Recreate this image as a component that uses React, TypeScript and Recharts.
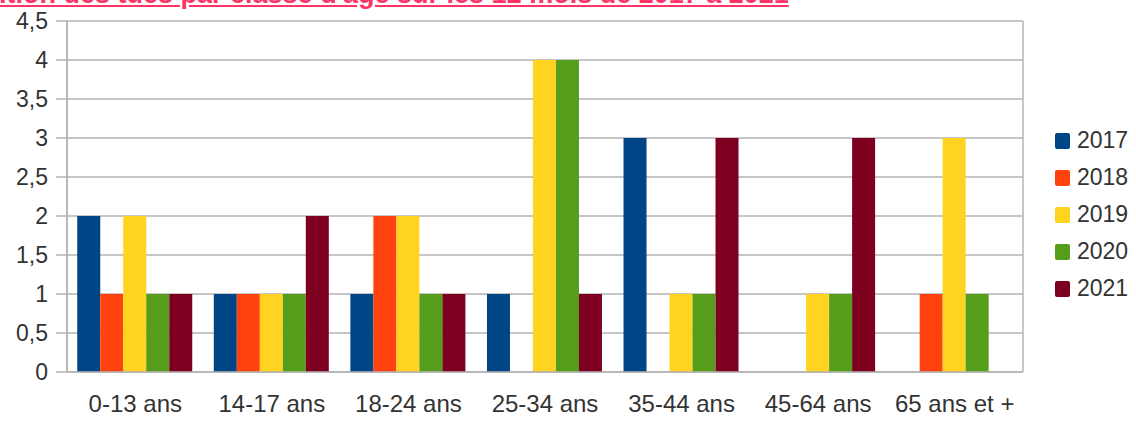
import { BarChart, Bar, XAxis, YAxis, CartesianGrid, Legend } from 'recharts';

const ageGroups = ['0-13 ans', '14-17 ans', '18-24 ans', '25-34 ans', '35-44 ans', '45-64 ans', '65 ans et +'];
const years = ['2017', '2018', '2019', '2020', '2021'];
const deaths2017 = [2, 1, 1, 1, 3, 0, 0];
const deaths2018 = [1, 1, 2, 0, 0, 0, 1];
const deaths2019 = [2, 1, 2, 4, 1, 1, 3];
const deaths2020 = [1, 1, 1, 4, 1, 1, 1];
const deaths2021 = [1, 2, 1, 1, 3, 3, 0];
const yTicks = [0, 0.5, 1, 1.5, 2, 2.5, 3, 3.5, 4, 4.5];
const edgeTicks = [0, 1, 2, 3, 4, 5, 6, 7];

const yearColors = ['#004586', '#ff420e', '#ffd320', '#579d1c', '#7e0021'];
const gridColor = '#b3b3b3';
const textColor = '#333333';
const font = '"Liberation Sans", Arial, sans-serif';

const series = [deaths2017, deaths2018, deaths2019, deaths2020, deaths2021];

const data = ageGroups.map((group, i) => {
  const row: Record<string, string | number> = { group, pos: i + 0.5 };
  years.forEach((y, k) => {
    row[y] = series[k][i];
  });
  return row;
});

// legend on the right, like the LibreOffice export
const YearLegend = () => (
  <div style={{ width: 86, fontFamily: font, fontSize: 23, color: textColor }}>
    {years.map((y, k) => (
      <div key={y} style={{ display: 'flex', alignItems: 'center', height: 37 }}>
        <span
          style={{
            display: 'inline-block',
            width: 15,
            height: 16,
            borderRadius: 2,
            background: yearColors[k],
            marginRight: 7,
          }}
        />
        <span>{y}</span>
      </div>
    ))}
  </div>
);

export default function App() {
  return (
    <div style={{ position: 'fixed', top: 0, left: 0, width: 1136, height: 428, background: '#fff', overflow: 'hidden' }}>
      <div
        style={{
          position: 'absolute',
          top: -21,
          left: -1,
          whiteSpace: 'nowrap',
          fontFamily: font,
          fontWeight: 'bold',
          fontSize: 27,
          lineHeight: '30px',
          color: '#ff3366',
          textDecoration: 'underline',
        }}
      >
        ition des tués par classe d'âge  sur les 12 mois de 2017 à 2021
      </div>
      <BarChart
        width={1136}
        height={428}
        data={data}
        margin={{ top: 21, right: 27, bottom: 0, left: 0 }}
        barCategoryGap="7.5%"
        barGap={0}
      >
        <CartesianGrid
          stroke={gridColor}
          strokeWidth={1.5}
          vertical={true}
          verticalCoordinatesGenerator={({ offset }: any) => [offset.left, offset.left + offset.width]}
        />
        <XAxis
          xAxisId="edges"
          type="number"
          dataKey="pos"
          domain={[0, 7]}
          ticks={edgeTicks}
          height={0}
          axisLine={false}
          tickLine={{ stroke: gridColor, strokeWidth: 1.5 }}
          tickSize={10}
          tickFormatter={() => ''}
          allowDataOverflow
        />
        <XAxis
          dataKey="group"
          height={56}
          axisLine={{ stroke: gridColor, strokeWidth: 1.5 }}
          tickLine={false}
          tickSize={0}
          tickMargin={23}
          interval={0}
          tick={{ fill: textColor, fontSize: 24, fontFamily: font }}
        />
        <YAxis
          width={67}
          domain={[0, 4.5]}
          ticks={yTicks}
          interval={0}
          axisLine={{ stroke: gridColor, strokeWidth: 1.5 }}
          tickLine={{ stroke: gridColor, strokeWidth: 1.5 }}
          tickSize={11}
          tickMargin={8}
          tick={{ fill: textColor, fontSize: 23, fontFamily: font }}
          tickFormatter={(v: number) => String(v).replace('.', ',')}
        />
        <Legend
          layout="vertical"
          align="right"
          verticalAlign="top"
          content={<YearLegend />}
          wrapperStyle={{ left: 1055, top: 122, width: 86 }}
        />
        {years.map((y, k) => (
          <Bar key={y} dataKey={y} fill={yearColors[k]} isAnimationActive={false} />
        ))}
      </BarChart>
    </div>
  );
}
